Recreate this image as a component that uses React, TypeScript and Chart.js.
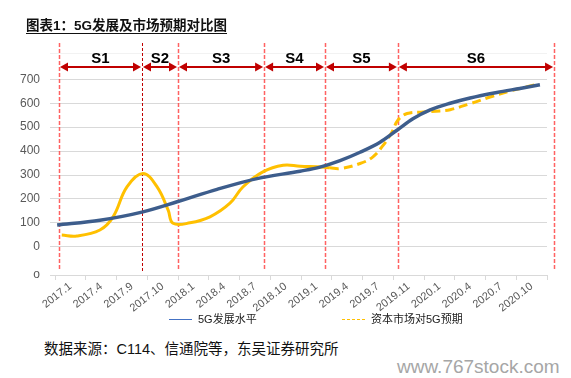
import React, { useEffect, useRef } from 'react';
import { Chart, registerables } from 'chart.js';

Chart.register(...registerables);

// ---------- data ----------
const categories = [
  '2017.1', '2017.4', '2017.9', '2017.10', '2018.1', '2018.4', '2018.7', '2018.10',
  '2019.1', '2019.4', '2019.7', '2019.11', '2020.1', '2020.4', '2020.7', '2020.10',
];

// x positions in category-index units (0 = centre of the first category)
const devX = [-0.43, 0.96, 2.36, 3.47, 4.77, 6.07, 7.47, 8.12, 8.77, 9.42, 10.07, 10.62, 11.14, 11.7, 12.35, 13.0, 13.87, 14.62, 15.27];
const devY = [91, 111, 146, 188, 240, 285, 316, 333, 360, 395, 437, 487, 535, 572, 600, 622, 645, 662, 677];

const expX = [-0.28, 0.21, 0.96, 1.39, 1.84, 2.36, 2.82, 3.18, 3.34, 3.89, 4.54, 5.19, 5.61, 6.26, 6.92, 7.47, 8.18, 8.44, 8.77, 9.42, 9.84, 10.17, 10.46, 10.65, 10.95, 11.47, 12.02, 12.35, 13.0, 13.65, 14.3, 15.18];
const expY = [49, 45, 70, 125, 250, 306, 250, 153, 98, 100, 125, 182, 250, 313, 341, 337, 333, 330, 327, 348, 376, 424, 480, 529, 557, 563, 568, 573, 598, 626, 651, 679];
const expDashFrom = 8.44;

const phaseBounds = [-0.37, 2.33, 3.5, 6.3, 8.28, 10.65, 15.73];
const phaseLabels = ['S1', 'S2', 'S3', 'S4', 'S5', 'S6'];

const yTickValues = [0, 100, 200, 300, 400, 500, 600, 700];
const Y_MIN = -118;
const Y_MAX = 810;
const ARROW_VALUE = 750;
const LABEL_VALUE = 787;

const seriesNames = ['5G发展水平', '资本市场对5G预期'];

export default function App() {
  const ref = useRef<HTMLCanvasElement>(null);

  useEffect(() => {
    const canvas = ref.current;
    if (!canvas) return;

    const phasePlugin = {
      id: 'phases',
      beforeDatasetsDraw(chart: any) {
        const ctx = chart.ctx;
        const xs = chart.scales.xl;
        const area = chart.chartArea;
        ctx.save();
        phaseBounds.forEach((b, i) => {
          const px = Math.round(xs.getPixelForValue(b)) + 0.5;
          ctx.beginPath();
          if (i === 1) {
            ctx.strokeStyle = '#c00000';
            ctx.lineWidth = 1;
            ctx.setLineDash([3, 2]);
          } else {
            ctx.strokeStyle = 'rgba(255,70,70,0.85)';
            ctx.lineWidth = 1.5;
            ctx.setLineDash([4, 2]);
          }
          ctx.moveTo(px, area.top - 10);
          ctx.lineTo(px, area.bottom - 4);
          ctx.stroke();
        });
        ctx.restore();
      },
      afterDraw(chart: any) {
        const ctx = chart.ctx;
        const xs = chart.scales.xl;
        const ys = chart.scales.y;
        const ay = Math.round(ys.getPixelForValue(ARROW_VALUE));
        const ly = ys.getPixelForValue(LABEL_VALUE);
        ctx.save();
        for (let i = 0; i < phaseLabels.length; i++) {
          const x0 = xs.getPixelForValue(phaseBounds[i]);
          const x1 = xs.getPixelForValue(phaseBounds[i + 1]);
          ctx.strokeStyle = '#c00000';
          ctx.fillStyle = '#c00000';
          ctx.lineWidth = 2;
          ctx.setLineDash([]);
          ctx.beginPath();
          ctx.moveTo(x0 + 6, ay);
          ctx.lineTo(x1 - 6, ay);
          ctx.stroke();
          ctx.beginPath();
          ctx.moveTo(x0 + 1, ay);
          ctx.lineTo(x0 + 9, ay - 4.5);
          ctx.lineTo(x0 + 9, ay + 4.5);
          ctx.closePath();
          ctx.fill();
          ctx.beginPath();
          ctx.moveTo(x1 - 1, ay);
          ctx.lineTo(x1 - 9, ay - 4.5);
          ctx.lineTo(x1 - 9, ay + 4.5);
          ctx.closePath();
          ctx.fill();
          ctx.fillStyle = '#000';
          ctx.font = 'bold 15px "Liberation Sans", Arial, sans-serif';
          ctx.textAlign = 'center';
          ctx.textBaseline = 'middle';
          ctx.fillText(phaseLabels[i], (x0 + x1) / 2, ly);
        }

        // legend
        const legendX = [169, 342];
        const legendY = 319.5;
        const legendColors = ['#4472c4', '#ffc000'];
        chart.data.datasets.forEach((ds: any, i: number) => {
          const lx = legendX[i];
          ctx.beginPath();
          ctx.strokeStyle = legendColors[i];
          ctx.lineWidth = 1;
          ctx.setLineDash(i === 1 ? [3, 2] : []);
          ctx.moveTo(lx, legendY);
          ctx.lineTo(lx + 23, legendY);
          ctx.stroke();
          ctx.setLineDash([]);
          ctx.fillStyle = '#1a1a1a';
          ctx.font = '11px "Liberation Sans", "Noto Sans CJK SC", sans-serif';
          ctx.textAlign = 'left';
          ctx.textBaseline = 'middle';
          ctx.fillText(ds.label, lx + 29, legendY);
        });
        ctx.restore();
      },
    };

    const chart = new Chart(canvas, {
      type: 'line',
      data: {
        labels: categories,
        datasets: [
          {
            label: seriesNames[0],
            data: devX.map((x, i) => ({ x, y: devY[i] })),
            xAxisID: 'xl',
            borderColor: '#3d5d8c',
            borderWidth: 3.5,
            pointRadius: 0,
            cubicInterpolationMode: 'monotone',
            fill: false,
          },
          {
            label: seriesNames[1],
            data: expX.map((x, i) => ({ x, y: expY[i] })),
            xAxisID: 'xl',
            borderColor: '#ffc000',
            borderWidth: 3,
            pointRadius: 0,
            tension: 0.4,
            fill: false,
            segment: {
              borderDash: (c: any) => (c.p0.parsed.x >= expDashFrom ? [9, 5] : undefined),
            },
          },
        ],
      } as any,
      options: {
        animation: false,
        responsive: false,
        devicePixelRatio: 1,
        layout: { padding: { left: 0, right: 24, top: 53, bottom: 0 } },
        plugins: {
          legend: { display: false },
          tooltip: { enabled: false },
        },
        scales: {
          x: {
            type: 'category',
            offset: true,
            grid: { offset: true, drawOnChartArea: false, drawTicks: true, tickLength: 5, color: '#d9d9d9' },
            border: { display: true, color: '#d9d9d9' },
            ticks: {
              autoSkip: false,
              minRotation: 38,
              maxRotation: 38,
              padding: 0,
              color: '#595959',
              font: { family: '"Liberation Sans", Arial, sans-serif', size: 11 },
            },
            afterFit: (s: any) => {
              s.height = 65;
            },
          },
          xl: {
            type: 'linear',
            display: false,
            min: -0.5,
            max: 15.5,
          },
          y: {
            min: Y_MIN,
            max: Y_MAX,
            afterBuildTicks: (s: any) => {
              s.ticks = [Y_MIN, ...yTickValues, Y_MAX].map((v) => ({ value: v }));
            },
            afterFit: (s: any) => {
              s.width = 55;
            },
            border: { display: false },
            grid: {
              color: (c: any) => (c.tick && c.tick.value === Y_MAX ? '#f2f2f2' : '#d9d9d9'),
              tickLength: 5,
              lineWidth: 1,
            },
            ticks: {
              padding: 10,
              color: '#595959',
              font: { family: '"Liberation Sans", Arial, sans-serif', size: 12 },
              callback: (v: any) => (v === Y_MIN ? 'o' : v === Y_MAX ? '' : String(v)),
            },
          },
        },
      } as any,
      plugins: [phasePlugin],
    });

    return () => chart.destroy();
  }, []);

  return (
    <div
      style={{
        position: 'absolute',
        left: 0,
        top: 0,
        width: 571,
        height: 378,
        background: '#fff',
        overflow: 'hidden',
      }}
    >
      <canvas ref={ref} width={571} height={340} style={{ position: 'absolute', left: 0, top: 0 }} />
      <div
        style={{
          position: 'absolute',
          left: 26,
          top: 19,
          fontFamily: '"Liberation Sans", "Noto Sans CJK SC", sans-serif',
          fontWeight: 'bold',
          fontSize: 13.5,
          lineHeight: '14px',
          color: '#111',
          borderBottom: '1px solid #111',
          whiteSpace: 'nowrap',
        }}
      >
        图表1：5G发展及市场预期对比图
      </div>
      <div
        style={{
          position: 'absolute',
          left: 44,
          top: 340,
          fontFamily: '"Liberation Sans", "Noto Sans CJK SC", sans-serif',
          fontSize: 14.5,
          lineHeight: '18px',
          color: '#111',
          whiteSpace: 'nowrap',
        }}
      >
        数据来源：C114、信通院等，东吴证券研究所
      </div>
      <div
        style={{
          position: 'absolute',
          left: 397,
          top: 356,
          fontFamily: '"Liberation Sans", Arial, sans-serif',
          fontSize: 19,
          lineHeight: '22px',
          color: '#a6a6a6',
          whiteSpace: 'nowrap',
        }}
      >
        www.767stock.com
      </div>
    </div>
  );
}
